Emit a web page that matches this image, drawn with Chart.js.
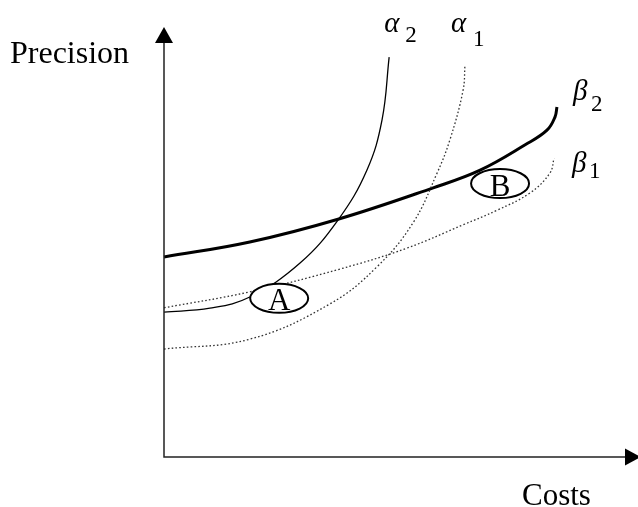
<!DOCTYPE html>
<html>
<head>
<meta charset="utf-8">
<script src="https://cdn.jsdelivr.net/npm/chart.js@4.4.1/dist/chart.umd.min.js"></script>
<style>
  html, body { margin: 0; padding: 0; background: #fff; }
  #wrap { width: 638px; height: 507px; }
</style>
</head>
<body>
<div id="wrap"><canvas id="chart" width="638" height="507"></canvas></div>
<script>
// Curve samples, arbitrary units (0-100 on both axes)
const alpha2Cost      = [0, 9.7, 18.1, 28.7, 36.7, 42.8, 46.0, 47.5];
const alpha2Precision = [33.7, 34.6, 37.2, 45.1, 55.1, 66.7, 78.4, 93.0];

const alpha1Cost      = [0, 18.1, 35.0, 44.9, 52.5, 57.6, 60.3, 63.1, 63.5];
const alpha1Precision = [25.1, 27.4, 35.6, 44.2, 54.4, 66.0, 73.7, 85.3, 91.2];

const beta2Cost       = [0, 18.1, 36.7, 56.8, 66.7, 76.2, 80.8, 82.5, 82.9];
const beta2Precision  = [46.5, 50.0, 55.3, 62.6, 66.7, 72.6, 76.0, 79.1, 81.4];

const beta1Cost       = [0, 18.1, 37.1, 51.3, 63.1, 70.3, 77.2, 81.4, 82.3];
const beta1Precision  = [34.7, 38.4, 43.7, 48.6, 54.0, 57.4, 61.4, 66.0, 69.5];

// Marked points A and B (ellipse centres)
const markNames     = ['A', 'B'];
const markCost      = [24.3, 70.9];
const markPrecision = [36.9, 63.6];

const axisTitles = { x: 'Costs', y: 'Precision' };

function pts(xs, ys) {
  return xs.map((x, i) => ({ x: x, y: ys[i] }));
}

const SERIF = "'Liberation Serif', 'DejaVu Serif', serif";

function curve(label, sub, xs, ys, style) {
  return Object.assign({
    label: label,
    sub: sub,
    data: pts(xs, ys),
    showLine: true,
    pointRadius: 0,
    borderColor: '#000',
    borderWidth: 1.3,
    tension: 0.4,
    fill: false,
    clip: false
  }, style);
}

const dotted = { borderColor: '#333', borderWidth: 1.3, borderDash: [1.6, 2.2] };

const datasets = [
  curve('α', '2', alpha2Cost, alpha2Precision, { lbl: [-5, -25, 21, 10] }),
  curve('α', '1', alpha1Cost, alpha1Precision, Object.assign({ lbl: [-14, -33, 22, 14] }, dotted)),
  curve('β', '2', beta2Cost, beta2Precision, { borderWidth: 3, lbl: [16, -7, 18, 11] }),
  curve('β', '1', beta1Cost, beta1Precision, Object.assign({ lbl: [18, 14, 17, 6] }, dotted))
];

// axes with arrow heads, ellipses, labels
const diagramPlugin = {
  id: 'diagram',
  afterDatasetsDraw(chart) {
    const ctx = chart.ctx;
    const xs = chart.scales.x, ys = chart.scales.y;
    const x0 = xs.getPixelForValue(0), y0 = ys.getPixelForValue(0);
    const top = ys.getPixelForValue(100), right = xs.getPixelForValue(100) + 3;
    ctx.save();

    // axes
    ctx.strokeStyle = '#222';
    ctx.fillStyle = '#000';
    ctx.lineWidth = 1.5;
    ctx.beginPath();
    ctx.moveTo(x0, top + 10);
    ctx.lineTo(x0, y0);
    ctx.lineTo(right - 10, y0);
    ctx.stroke();
    ctx.beginPath();
    ctx.moveTo(x0, top);
    ctx.lineTo(x0 - 9, top + 16);
    ctx.lineTo(x0 + 9, top + 16);
    ctx.closePath();
    ctx.fill();
    ctx.beginPath();
    ctx.moveTo(right, y0);
    ctx.lineTo(right - 16, y0 - 8.5);
    ctx.lineTo(right - 16, y0 + 8.5);
    ctx.closePath();
    ctx.fill();

    // axis titles
    ctx.textBaseline = 'alphabetic';
    ctx.textAlign = 'left';
    ctx.font = '32px ' + SERIF;
    ctx.fillText(axisTitles.y, 10, 63);
    ctx.font = '31px ' + SERIF;
    ctx.fillText(axisTitles.x, 522, 505);

    // ellipses A, B
    const rx = 29, ry = 14.5;
    markNames.forEach((name, i) => {
      const cx = xs.getPixelForValue(markCost[i]);
      const cy = ys.getPixelForValue(markPrecision[i]);
      ctx.beginPath();
      ctx.ellipse(cx, cy, rx, ry, 0, 0, Math.PI * 2);
      ctx.fillStyle = '#fff';
      ctx.fill();
      ctx.lineWidth = 2;
      ctx.strokeStyle = '#000';
      ctx.stroke();
      ctx.fillStyle = '#000';
      ctx.font = '31px ' + SERIF;
      ctx.textAlign = 'center';
      ctx.fillText(name, cx, cy + 12);
    });

    // curve labels at the curve ends
    ctx.textAlign = 'left';
    chart.data.datasets.forEach((ds, i) => {
      const meta = chart.getDatasetMeta(i);
      const end = meta.data[meta.data.length - 1];
      const o = ds.lbl;
      const gx = end.x + o[0], gy = end.y + o[1];
      ctx.font = 'italic 29px ' + SERIF;
      ctx.fillText(ds.label, gx, gy);
      ctx.font = '23px ' + SERIF;
      ctx.fillText(ds.sub, gx + o[2], gy + o[3]);
    });

    ctx.restore();
  }
};

new Chart(document.getElementById('chart'), {
  type: 'scatter',
  data: { datasets: datasets },
  options: {
    responsive: false,
    animation: false,
    devicePixelRatio: 1,
    layout: { padding: { left: 164, top: 27, right: 0, bottom: 50 } },
    plugins: { legend: { display: false }, tooltip: { enabled: false } },
    scales: {
      x: { type: 'linear', min: 0, max: 100, display: false },
      y: { type: 'linear', min: 0, max: 100, display: false }
    }
  },
  plugins: [diagramPlugin]
});
</script>
</body>
</html>
